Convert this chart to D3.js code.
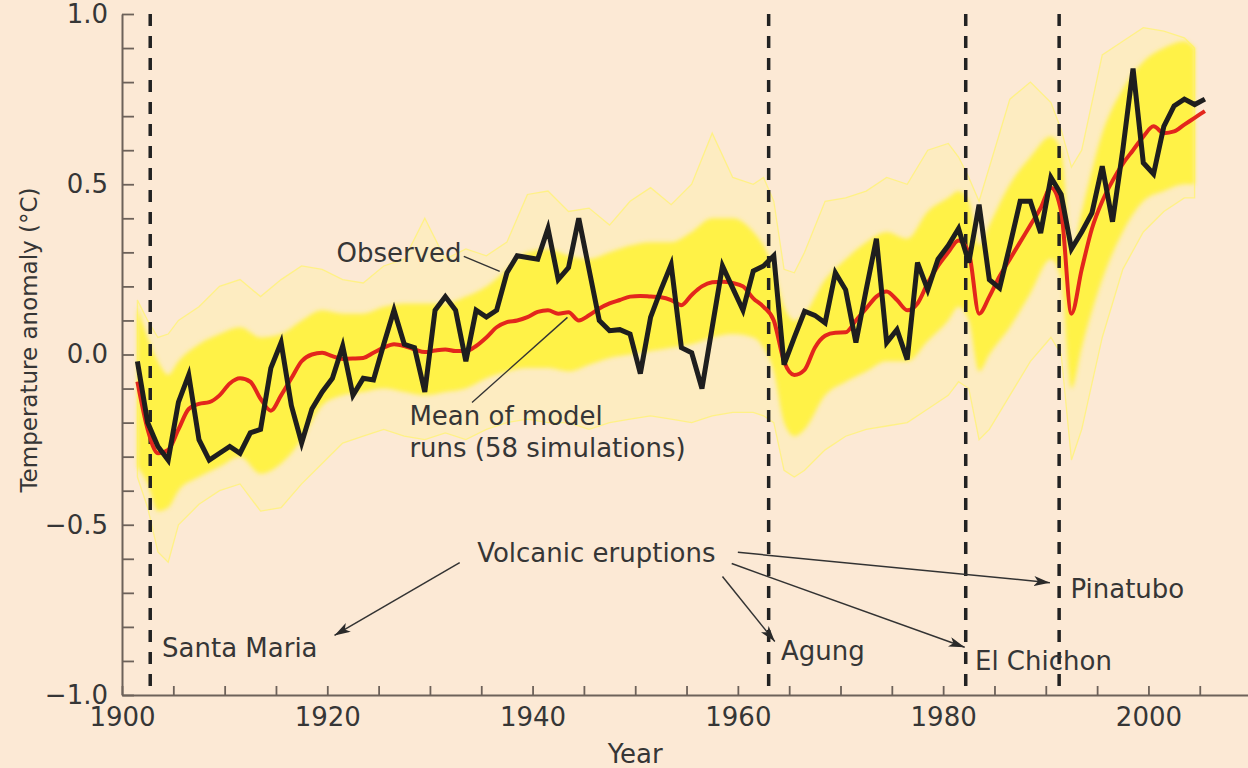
<!DOCTYPE html>
<html><head><meta charset="utf-8">
<script src="https://cdn.jsdelivr.net/npm/d3@7"></script>
<style>
html,body{margin:0;padding:0;background:#fce9d5;}
svg{display:block;}
text{font-family:"DejaVu Sans",sans-serif;fill:#363636;}
</style></head><body>
<svg id="chart" width="1248" height="768"></svg>
<script>
// ---------- data ----------
const years = d3.range(1901, 2006);
const observed = [
 -0.02,-0.20,-0.27,-0.31,-0.14,-0.06,-0.25,-0.31,-0.29,-0.27,
 -0.29,-0.23,-0.22,-0.04,0.035,-0.15,-0.26,-0.16,-0.11,-0.07,
 0.025,-0.12,-0.07,-0.075,0.03,0.13,0.03,0.02,-0.11,0.13,
 0.17,0.13,-0.02,0.13,0.11,0.13,0.24,0.29,0.285,0.28,
 0.37,0.22,0.255,0.40,0.25,0.10,0.07,0.073,0.06,-0.056,
 0.11,0.19,0.264,0.02,0.005,-0.10,0.08,0.26,0.195,0.13,
 0.245,0.26,0.29,-0.03,0.05,0.127,0.115,0.093,0.24,0.19,
 0.035,0.19,0.34,0.035,0.073,-0.015,0.27,0.19,0.28,0.32,
 0.37,0.27,0.44,0.22,0.195,0.32,0.45,0.45,0.357,0.52,
 0.47,0.31,0.36,0.416,0.553,0.39,0.60,0.84,0.563,0.53,
 0.67,0.73,0.75,0.734,0.75];
const modelMean = [
 -0.08,-0.22,-0.29,-0.28,-0.22,-0.16,-0.145,-0.14,-0.12,-0.085,
 -0.07,-0.08,-0.13,-0.165,-0.12,-0.07,-0.02,0.0,0.005,-0.005,
 -0.013,-0.012,-0.01,0.005,0.02,0.03,0.025,0.015,0.007,0.012,
 0.015,0.01,0.01,0.025,0.05,0.08,0.095,0.10,0.11,0.125,
 0.13,0.12,0.124,0.10,0.115,0.135,0.15,0.16,0.17,0.172,
 0.17,0.168,0.16,0.145,0.175,0.20,0.212,0.214,0.21,0.20,
 0.165,0.14,0.10,-0.02,-0.06,-0.045,0.02,0.055,0.064,0.065,
 0.10,0.135,0.17,0.185,0.16,0.13,0.15,0.21,0.26,0.30,
 0.335,0.30,0.12,0.17,0.23,0.28,0.33,0.38,0.43,0.49,
 0.42,0.12,0.25,0.37,0.45,0.51,0.56,0.60,0.64,0.67,
 0.65,0.655,0.675,0.695,0.715];
// spread of the 58 model runs
const envYears =    [1901,1902,1903,1904,1905,1907,1909,1911,1913,1915,1917,1919,1921,1923,1925,1927,1929,1931,1933,1935,1937,1939,1941,1943,1945,1947,1949,1951,1953,1955,1957,1959,1961,1962,1963,1964,1965,1966,1968,1970,1972,1974,1976,1978,1980,1981,1982,1983,1984,1986,1988,1990,1991,1992,1993,1995,1997,1999,2001,2003,2004];
const envOuterTop = [0.16,0.10,0.05,0.06,0.10,0.14,0.20,0.22,0.17,0.22,0.26,0.25,0.22,0.21,0.26,0.28,0.40,0.28,0.31,0.29,0.33,0.47,0.48,0.42,0.43,0.38,0.45,0.49,0.44,0.50,0.65,0.52,0.50,0.52,0.45,0.25,0.24,0.30,0.45,0.46,0.48,0.52,0.50,0.60,0.62,0.58,0.52,0.45,0.55,0.75,0.80,0.74,0.66,0.55,0.60,0.88,0.92,0.96,0.95,0.93,0.90];
const envOuterBot = [-0.36,-0.45,-0.58,-0.61,-0.50,-0.44,-0.40,-0.38,-0.46,-0.45,-0.38,-0.32,-0.26,-0.24,-0.22,-0.24,-0.25,-0.23,-0.25,-0.22,-0.20,-0.19,-0.20,-0.20,-0.22,-0.20,-0.19,-0.18,-0.19,-0.20,-0.18,-0.17,-0.17,-0.18,-0.20,-0.34,-0.36,-0.34,-0.28,-0.24,-0.22,-0.21,-0.20,-0.16,-0.12,-0.08,-0.10,-0.25,-0.22,-0.12,-0.02,0.05,0.00,-0.31,-0.22,0.05,0.25,0.36,0.42,0.46,0.46];
const envCoreTop =  [0.14,0.05,-0.02,-0.06,-0.02,0.03,0.06,0.08,0.05,0.06,0.10,0.13,0.12,0.12,0.14,0.15,0.15,0.15,0.17,0.20,0.25,0.30,0.31,0.29,0.28,0.30,0.32,0.33,0.33,0.36,0.40,0.40,0.36,0.32,0.25,0.14,0.10,0.12,0.22,0.28,0.33,0.36,0.34,0.42,0.46,0.48,0.45,0.32,0.38,0.50,0.58,0.64,0.60,0.30,0.42,0.65,0.78,0.86,0.90,0.92,0.90];
const envCoreBot =  [-0.33,-0.38,-0.46,-0.45,-0.40,-0.36,-0.33,-0.30,-0.35,-0.32,-0.25,-0.15,-0.12,-0.11,-0.10,-0.11,-0.12,-0.11,-0.10,-0.07,-0.05,-0.04,-0.04,-0.05,-0.03,-0.01,0.00,0.01,0.02,0.03,0.05,0.06,0.05,0.02,-0.05,-0.20,-0.24,-0.22,-0.12,-0.08,-0.05,-0.02,-0.02,0.04,0.10,0.14,0.10,-0.05,0.00,0.08,0.18,0.28,0.22,-0.10,0.02,0.22,0.36,0.45,0.48,0.50,0.50];
const eruptionYears = [1902.75, 1963.0, 1982.2, 1991.3];
const eruptionNames = ["Santa Maria", "Agung", "El Chichon", "Pinatubo"];
const xTicks = d3.range(1900, 2006, 5);
const xTickLabels = [1900, 1920, 1940, 1960, 1980, 2000];
const yTicks = d3.range(-10, 11).map(d => d / 10);
const yTickLabels = [-1.0, -0.5, 0.0, 0.5, 1.0];

// ---------- layout ----------
const svg = d3.select("#chart");
const W = 1248, H = 768;
svg.append("rect").attr("width", W).attr("height", H).attr("fill", "#fce9d5");
const x = d3.scaleLinear().domain([1900, 2009.7]).range([122, 1248]);
const y = d3.scaleLinear().domain([-1, 1]).range([695, 14]);
const xm = yr => x(yr + 0.5); // annual means plotted mid-year

const obs = years.map((yr, i) => ({yr, v: observed[i]}));
const mm = years.map((yr, i) => ({yr, v: modelMean[i]}));
const env = envYears.map((yr, i) => ({yr, ot: envOuterTop[i], ob: envOuterBot[i], ct: envCoreTop[i], cb: envCoreBot[i]}));

const defs = svg.append("defs");
defs.append("filter").attr("id", "soft").attr("x", "-5%").attr("y", "-20%").attr("width", "110%").attr("height", "140%")
  .append("feGaussianBlur").attr("stdDeviation", 2.2);

// model spread: outer (individual runs) and dense core
svg.append("path").datum(env)
  .attr("d", d3.area().x(d => xm(d.yr)).y0(d => y(d.ob)).y1(d => y(d.ot)).curve(d3.curveLinear))
  .attr("fill", "#fff3a0").attr("fill-opacity", 0.38)
  .attr("stroke", "#fff27e").attr("stroke-width", 1.3).attr("stroke-opacity", 0.9);
svg.append("path").datum(env)
  .attr("d", d3.area().x(d => xm(d.yr)).y0(d => y(d.cb)).y1(d => y(d.ct)).curve(d3.curveMonotoneX))
  .attr("fill", "#fff23c").attr("fill-opacity", 0.92).attr("filter", "url(#soft)");

// axes
const axCol = "#6d625a";
const gx = svg.append("g").attr("transform", `translate(0,${y(-1)})`)
  .call(d3.axisBottom(x).tickValues(xTicks).tickSizeInner(-9).tickSizeOuter(0).tickPadding(13)
    .tickFormat(d => xTickLabels.includes(d) ? String(d) : ""));
const gy = svg.append("g").attr("transform", `translate(${x(1900)},0)`)
  .call(d3.axisLeft(y).tickValues(yTicks).tickSizeInner(-12).tickSizeOuter(0).tickPadding(14)
    .tickFormat(d => yTickLabels.some(v => Math.abs(v - d) < 1e-6) ? d3.format(".1f")(d) : ""));
[gx, gy].forEach(g => {
  g.select(".domain").attr("stroke", axCol).attr("stroke-width", 2);
  g.selectAll(".tick line").attr("stroke", axCol).attr("stroke-width", 1.8);
  g.selectAll(".tick text").attr("font-size", 26).attr("fill", "#363636").attr("font-family", "DejaVu Sans");
});

// volcanic eruption dashed lines
svg.append("g").selectAll("line").data(eruptionYears).join("line")
  .attr("x1", d => x(d)).attr("x2", d => x(d)).attr("y1", y(1)).attr("y2", y(-1))
  .attr("stroke", "#222").attr("stroke-width", 3.5).attr("stroke-dasharray", "12,10");

// model mean and observed
svg.append("path").datum(mm).attr("d", d3.line().x(d => xm(d.yr)).y(d => y(d.v)).curve(d3.curveMonotoneX)(mm))
  .attr("fill", "none").attr("stroke", "#e3261c").attr("stroke-width", 4).attr("stroke-linejoin", "round");
svg.append("path").datum(obs).attr("d", d3.line().x(d => xm(d.yr)).y(d => y(d.v))(obs))
  .attr("fill", "none").attr("stroke", "#1e1e1e").attr("stroke-width", 5).attr("stroke-linejoin", "miter");

// axis titles
svg.append("text").attr("x", x(1950)).attr("y", 763).attr("text-anchor", "middle")
  .attr("font-size", 26).text("Year");
svg.append("text").attr("transform", `translate(37,${340}) rotate(-90)`).attr("text-anchor", "middle")
  .attr("font-size", 23).text("Temperature anomaly (°C)");

// annotations
defs.append("marker").attr("id", "ah").attr("viewBox", "0 0 16 10").attr("refX", 16).attr("refY", 5)
  .attr("markerWidth", 16).attr("markerHeight", 10).attr("markerUnits", "userSpaceOnUse").attr("orient", "auto")
  .append("path").attr("d", "M0,0 L16,5 L0,10 L4,5 Z").attr("fill", "#2a2a2a");
const ann = svg.append("g");
const fs = 26;
ann.append("text").attr("x", x(1920.9)).attr("y", y(0.273)).attr("font-size", fs).text("Observed");
ann.append("line").attr("x1", x(1933.3)).attr("y1", y(0.288)).attr("x2", x(1936.8)).attr("y2", y(0.244))
  .attr("stroke", "#333").attr("stroke-width", 1.4);
ann.append("text").attr("x", x(1928.0)).attr("y", y(-0.206)).attr("font-size", fs).text("Mean of model");
ann.append("text").attr("x", x(1928.0)).attr("y", y(-0.300)).attr("font-size", fs).text("runs (58 simulations)");
ann.append("line").attr("x1", x(1934.1)).attr("y1", y(-0.141)).attr("x2", x(1943.4)).attr("y2", y(0.109))
  .attr("stroke", "#333").attr("stroke-width", 1.4);
ann.append("text").attr("x", x(1934.6)).attr("y", y(-0.608)).attr("font-size", fs).text("Volcanic eruptions");

const arrowFrom = [[1932.9, -0.611], [1958.5, -0.652], [1959.4, -0.614], [1960.0, -0.581]];
const arrowTo   = [[1920.7, -0.825], [1963.6, -0.843], [1982.1, -0.860], [1990.4, -0.670]];
const labelPos  = [[1903.9, -0.887], [1964.2, -0.896], [1983.1, -0.928], [1992.4, -0.714]];
eruptionNames.forEach((nm, i) => {
  ann.append("line").attr("x1", x(arrowFrom[i][0])).attr("y1", y(arrowFrom[i][1]))
    .attr("x2", x(arrowTo[i][0])).attr("y2", y(arrowTo[i][1]))
    .attr("stroke", "#333").attr("stroke-width", 1.5).attr("marker-end", "url(#ah)");
  ann.append("text").attr("x", x(labelPos[i][0])).attr("y", y(labelPos[i][1])).attr("font-size", fs).text(nm);
});
</script></body></html>
